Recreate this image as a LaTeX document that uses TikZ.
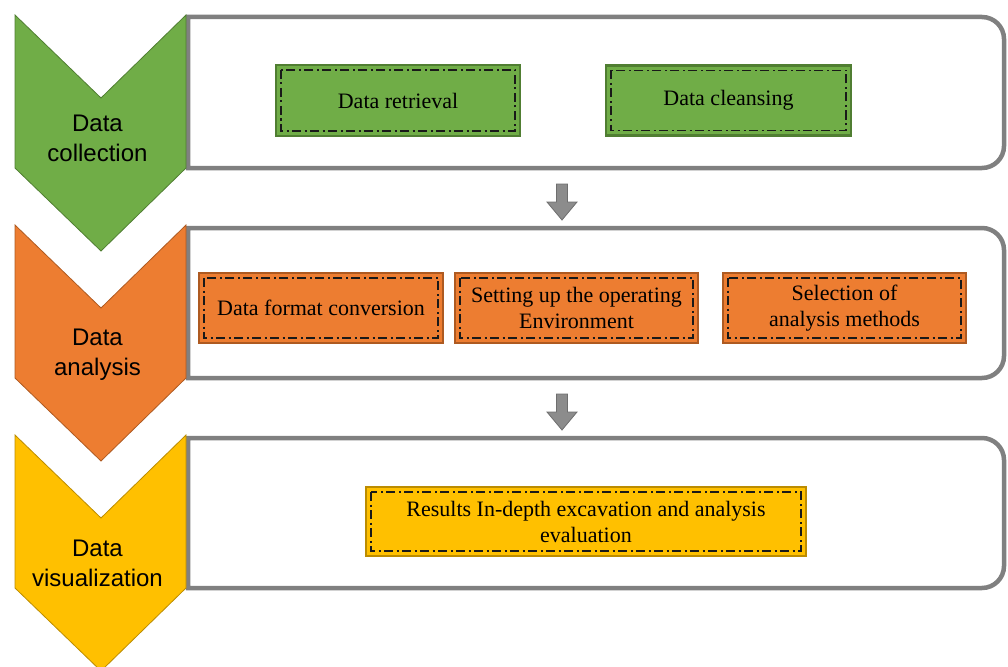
\documentclass[tikz,border=0pt]{standalone}
\usepackage{fontspec}
\setmainfont{Liberation Serif}
\newfontfamily\arialf{Liberation Sans}
\definecolor{gfill}{HTML}{70AD47}
\definecolor{gline}{HTML}{507E32}
\definecolor{ofill}{HTML}{ED7D31}
\definecolor{oline}{HTML}{AE5A21}
\definecolor{yfill}{HTML}{FFC000}
\definecolor{yline}{HTML}{BC8C00}
\definecolor{boxgray}{HTML}{808080}
\definecolor{arrfill}{HTML}{8C8C8C}
\definecolor{arrline}{HTML}{6E6E6E}
\begin{document}
\begin{tikzpicture}[x=1pt,y=-1pt,
  bigbox/.style={draw=boxgray, line width=4.5pt, fill=white},
  chev/.style={line width=0.8pt, line join=miter},
  chevtext/.style={font=\arialf\fontsize{24}{30}\selectfont, align=center, text=black, inner sep=0pt},
  inbox/.style={fill=#1fill, draw=#1line, line width=2.2pt, minimum width=244pt, minimum height=70pt,
    inner sep=0pt, align=center, font=\fontsize{22}{26}\selectfont, text=black,
    path picture={\draw[black!90, line width=1.7pt, dash pattern=on 9pt off 3.5pt on 2pt off 3.5pt]
      ([shift={(5pt,-5pt)}]path picture bounding box.north west) rectangle
      ([shift={(-5pt,5pt)}]path picture bounding box.south east);}},
  blockarrow/.style={fill=arrfill, draw=arrline, line width=0.8pt, line join=miter}]
\useasboundingbox (0,0) rectangle (1008,666);
% big boxes
\draw[bigbox] (400,17) -- (188,17) -- (188,168) -- (400,168) [rounded corners=22pt] -- (1004,168) -- (1004,17) -- cycle;
\draw[bigbox] (400,228) -- (188,228) -- (188,378) -- (400,378) [rounded corners=22pt] -- (1004,378) -- (1004,228) -- cycle;
\draw[bigbox] (400,438) -- (188,438) -- (188,588) -- (400,588) [rounded corners=22pt] -- (1004,588) -- (1004,438) -- cycle;
% chevrons
\draw[chev, fill=gfill, draw=gline] (15,15) -- (101,98) -- (186,15) -- (186,168) -- (101,251) -- (15,168) -- cycle;
\draw[chev, fill=ofill, draw=oline] (15,225) -- (101,308) -- (186,225) -- (186,378) -- (101,461) -- (15,378) -- cycle;
\draw[chev, fill=yfill, draw=yline] (15,435) -- (101,518) -- (186,435) -- (186,588) -- (101,671) -- (15,588) -- cycle;
\node[chevtext] (t1) at (97.5,138) {Data\\collection};
\node[chevtext] (t2) at (97.5,355) {Data\\analysis};
\node[chevtext] (t3) at (97.5,563) {Data\\visualization};
% inner boxes
\node[inbox=g, minimum height=71pt] (dr) at (398,100.5) {Data retrieval};
\node[inbox=g, minimum width=245pt] (dc) at (728.5,100.5) {Data cleansing};
\node[inbox=o] (fc) at (321,308) {Data format conversion};
\node[inbox=o, minimum width=243pt] (se) at (576.5,308) {Setting up the operating\\Environment};
\node[inbox=o, minimum width=243pt] (sa) at (844.5,308) {Selection of\\analysis methods};
\node[inbox=y, minimum width=440pt, minimum height=69pt] (re) at (586,521.5) {Results In-depth excavation and analysis\\evaluation};
% block arrows
\draw[blockarrow] (556.5,184) -- (567.5,184) -- (567.5,202) -- (577,202) -- (562,220) -- (547,202) -- (556.5,202) -- cycle;
\draw[blockarrow] (556.5,394) -- (567.5,394) -- (567.5,412) -- (577,412) -- (562,430) -- (547,412) -- (556.5,412) -- cycle;
\end{tikzpicture}
\end{document}
